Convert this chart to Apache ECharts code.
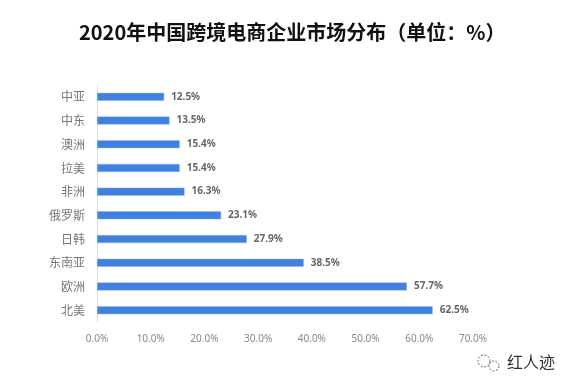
<!DOCTYPE html>
<html><head><meta charset="utf-8">
<script src="https://cdn.jsdelivr.net/npm/echarts@6/dist/echarts.min.js"></script>
<style>html,body{margin:0;padding:0;background:#fff}#c{width:566px;height:389px}</style>
</head><body><div id="c"></div>
<script>
const titleText = '2020年中国跨境电商企业市场分布（单位：%）';
const categories = ['中亚','中东','澳洲','拉美','非洲','俄罗斯','日韩','东南亚','欧洲','北美'];
const values = [12.5,13.5,15.4,15.4,16.3,23.1,27.9,38.5,57.7,62.5];
const xTicks = {min:0, max:70, interval:10};
const sourceText = '红人迹';

const chart = echarts.init(document.getElementById('c'));
chart.setOption({
  animation:false,
  title:{text:titleText,left:74,top:17,textStyle:{fontFamily:'Noto Sans CJK SC',fontWeight:'bold',fontSize:20,color:'#111'}},
  grid:{left:97,right:93,top:85,bottom:67},
  xAxis:{type:'value',min:xTicks.min,max:xTicks.max,interval:xTicks.interval,
    axisLine:{show:false},axisTick:{show:false},splitLine:{show:false},
    axisLabel:{formatter:v=>v.toFixed(1)+'%',color:'#888',fontSize:10,fontFamily:'Noto Sans',margin:12}},
  yAxis:{type:'category',data:categories,inverse:true,
    axisLine:{show:true,lineStyle:{color:'#ddd'}},axisTick:{show:false},
    axisLabel:{color:'#777',fontSize:12,fontFamily:'Noto Sans CJK SC',margin:12}},
  series:[{type:'bar',data:values,barWidth:8,
    itemStyle:{color:'#3f80e0',borderColor:'#8fb5ee',borderWidth:0.5},
    label:{show:true,position:'right',distance:7,formatter:p=>p.value.toFixed(1)+'%',color:'#666',fontSize:10,fontWeight:'bold',fontFamily:'Noto Sans'}}],
  graphic:[
    {type:'text',left:507,top:354,style:{text:sourceText,font:'16px "Noto Sans CJK SC"',fill:'#333'}},
    {type:'circle',shape:{cx:484,cy:361,r:6},style:{fill:'none',stroke:'#666',lineWidth:1,lineDash:[2,1.5]}},
    {type:'circle',shape:{cx:494,cy:366,r:5},style:{fill:'#fff',stroke:'#666',lineWidth:1,lineDash:[2,1.5]}}
  ]
});
</script></body></html>
